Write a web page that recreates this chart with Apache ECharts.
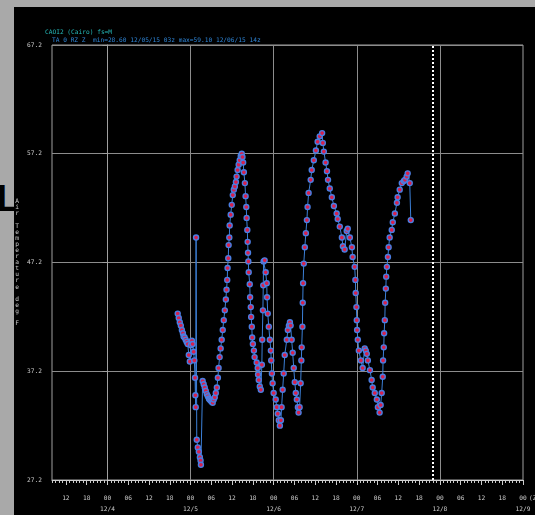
<!DOCTYPE html>
<html><head><meta charset="utf-8">
<script src="https://cdn.jsdelivr.net/npm/echarts@6/dist/echarts.min.js"></script>
<style>
html,body{margin:0;padding:0;width:535px;height:515px;overflow:hidden;background:#a9a9a9;}
#L{position:absolute;left:-3px;top:181px;font:bold 36px "Liberation Sans",Arial,sans-serif;color:#000;line-height:36px;}
#black{position:absolute;left:14px;top:7px;width:521px;height:508px;background:#000;}
#chart{position:absolute;left:0;top:0;width:535px;height:515px;}
</style></head><body>
<div id="L">L</div><div id="black"></div><div id="chart"></div>
<script>
// Hours since 12/4 00Z
const obsHours = [
 20.3,20.6,20.9,21.2,21.5,21.8,22.0,22.3,22.6,22.9,23.2,
 23.5,23.8,24.1,24.4,24.6,24.9,25.1,25.3,25.4,25.5,
 25.6,
 25.8,26.1,26.4,26.7,26.9,27.0,
 27.5,27.8,28.1,28.4,28.7,29.0,29.3,29.5,29.8,30.1,30.4,
 30.7,31.0,31.3,31.6,31.9,32.1,32.4,32.7,33.0,33.3,33.6,33.9,34.2,34.4,
 34.6,34.7,34.9,35.0,35.2,35.3,35.6,35.9,36.2,36.5,36.8,37.1,37.3,37.6,37.9,38.2,38.5,38.8,
 39.0,39.2,39.4,39.7,39.9,40.1,40.2,40.4,40.5,40.6,40.7,40.8,41.1,41.2,41.4,41.5,41.7,41.8,42.0,42.3,42.5,
 43.1,43.4,43.5,43.7,44.0,44.3,
 44.6,44.7,44.9,45.0,45.1,45.4,
 45.7,46.0,46.1,46.3,46.6,46.9,47.2,47.3,47.5,47.7,48.0,48.6,48.9,49.2,49.5,49.8,
 50.1,50.3,50.6,50.9,51.2,51.8,52.1,52.4,52.7,52.9,
 53.2,53.5,53.8,54.1,54.4,54.7,55.0,55.2,55.5,
 55.8,56.0,56.1,56.3,56.4,56.5,56.7,57.0,57.3,57.6,57.8,58.1,58.7,59.0,59.6,60.2,60.7,61.3,62.0,
 62.2,62.5,63.0,63.4,63.7,64.2,64.8,65.4,66.2,66.5,67.1,67.7,68.0,68.5,
 69.1,69.4,70.0,70.6,70.8,71.4,71.6,71.7,71.9,72.0,72.1,72.3,72.6,73.2,73.7,
 74.3,74.6,74.9,75.2,75.8,76.3,76.6,77.2,77.8,78.1,78.6,
 78.9,79.2,79.5,79.6,79.8,79.9,80.1,80.2,80.4,80.5,80.7,81.0,81.2,81.5,
 82.1,82.4,83.0,83.6,83.8,84.4,85.0,85.6,85.9,86.4,86.7,87.3,87.6
];
// Air temperature, deg F
const obsTempF = [
 42.5,42.1,41.7,41.4,41.0,40.7,40.4,40.3,40.1,39.9,39.7,
 38.7,38.1,39.6,40.0,39.7,39.0,38.2,36.6,35.0,33.9,
 49.5,
 30.9,30.2,29.8,29.3,29.0,28.6,
 36.3,36.0,35.7,35.4,35.1,34.9,34.7,34.6,34.5,34.4,34.3,
 34.6,34.8,35.2,35.7,36.6,37.5,38.5,39.3,40.1,41.0,41.9,42.8,43.8,44.7,
 45.6,46.7,47.6,48.8,49.5,50.6,51.6,52.5,53.4,53.9,54.2,54.6,55.1,55.7,56.2,56.6,57.0,57.2,
 56.9,56.4,55.5,54.5,53.3,52.3,51.3,50.2,49.1,48.1,47.3,46.3,45.2,44.0,43.1,42.2,41.3,40.3,39.7,39.1,38.5,
 38.0,37.5,36.9,36.4,35.8,35.5,
 37.8,40.1,42.8,45.1,47.3,47.4,
 46.3,45.3,44.0,42.5,41.3,40.1,39.1,38.2,37.0,36.1,35.2,34.6,33.9,33.3,32.7,32.2,
 32.7,33.9,35.5,37.0,38.7,40.1,41.0,41.4,41.7,41.4,
 40.1,38.9,37.5,36.2,35.2,34.6,33.9,33.4,33.9,
 36.1,38.2,39.4,41.3,43.5,45.3,47.1,48.6,49.9,51.1,52.3,53.6,54.8,55.7,56.6,57.5,58.3,58.8,59.1,
 58.2,57.4,56.4,55.6,54.8,54.0,53.2,52.4,51.7,51.2,50.5,49.5,48.7,48.4,
 50.1,50.3,49.5,48.6,47.7,46.8,45.6,44.4,43.1,41.9,41.0,40.1,39.1,38.2,37.5,
 39.3,39.1,38.8,38.2,37.3,36.4,35.7,35.2,34.6,33.9,33.4,
 34.1,35.2,36.7,38.2,39.4,40.7,41.9,43.5,44.8,45.9,46.8,47.7,48.6,49.5,
 50.2,50.9,51.7,52.7,53.2,53.9,54.5,54.7,54.8,55.1,55.4,54.5,51.1
];
const yTickValues = [27.2, 37.2, 47.2, 57.2, 67.2];
const xLabelHours = [-12,-6,0,6,12,18,24,30,36,42,48,54,60,66,72,78,84,90,96,102,108,114,120];
const dayLineHours = [0, 24, 48, 72, 96];
const dateLabels = ['12/4','12/5','12/6','12/7','12/8','12/9'];
const nowHour = 94;
const titleLine1 = 'CAOI2 (Cairo) fs=M';
const titleLine2 = 'TA 0 RZ Z  min=28.60 12/05/15 03z max=59.10 12/06/15 14z';
const yName = 'Air Temperature deg F';

const X_MIN = -16, X_MAX = 120;
const hourTicks = [];
for (let h = X_MIN; h <= X_MAX; h++) hourTicks.push(h);
const sixTicks = xLabelHours.slice();

const FONT = 'DejaVu Sans Mono';
const chart = echarts.init(document.getElementById('chart'), null, {renderer:'canvas'});
const option = {
  backgroundColor: 'transparent',
  animation: false,
  title: [
    {text: titleLine1, left: 45, top: 29, padding: 0,
     textStyle: {color:'#25b8b8', fontSize:6.2, fontFamily:FONT, fontWeight:'normal', lineHeight:7}},
    {text: titleLine2, left: 52, top: 37, padding: 0,
     textStyle: {color:'#2f86d8', fontSize:6.2, fontFamily:FONT, fontWeight:'normal', lineHeight:7}}
  ],
  graphic: [
    {type:'text', left: 529, top: 495, style:{text:'(Z)', fill:'#cccccc', font:'6.2px "DejaVu Sans Mono"'}}
  ],
  grid: {left:52, right:12, top:45, bottom:35, show:true, borderColor:'#a0a0a0', borderWidth:1, containLabel:false},
  xAxis: [
    {type:'value', min:X_MIN, max:X_MAX, position:'bottom',
     axisLine:{show:true, lineStyle:{color:'#d0d0d0', width:1}},
     axisTick:{show:false, customValues: dayLineHours},
     splitLine:{show:true, lineStyle:{color:'#8c8c8c', width:1}},
     axisLabel:{customValues: xLabelHours, color:'#cccccc', fontFamily:FONT, fontSize:6.2, lineHeight:11, margin:13,
       formatter: function(v){
         const hh = ((v % 24) + 24) % 24;
         const s = String(hh).padStart(2,'0');
         if (hh === 0) return s + '\n' + dateLabels[v/24];
         return s;
       }}
    },
    {type:'value', min:X_MIN, max:X_MAX, position:'bottom',
     axisLine:{show:false}, splitLine:{show:false}, axisLabel:{show:false},
     axisTick:{show:true, customValues: hourTicks, length:3, lineStyle:{color:'#cccccc', width:1}}
    },
    {type:'value', min:X_MIN, max:X_MAX, position:'bottom',
     axisLine:{show:false}, splitLine:{show:false}, axisLabel:{show:false},
     axisTick:{show:true, customValues: sixTicks, length:5, lineStyle:{color:'#cccccc', width:1}}
    }
  ],
  yAxis: {type:'value', min:27.2, max:67.2,
    axisLine:{show:true, lineStyle:{color:'#a0a0a0', width:1}},
    axisTick:{show:true, customValues: yTickValues, length:5, lineStyle:{color:'#a0a0a0'}},
    splitLine:{show:true, lineStyle:{color:'#8c8c8c', width:1}},
    axisLabel:{customValues: yTickValues, color:'#cccccc', fontFamily:FONT, fontSize:6.2, margin:10,
      formatter: v => v.toFixed(1)},
    name: yName.split('').join('\n'), nameLocation:'middle', nameRotate:0, nameGap:35,
    nameTextStyle:{color:'#cccccc', fontFamily:FONT, fontSize:6.2, lineHeight:6.1, align:'center'}
  },
  series: [{
    type:'line', xAxisIndex:0, yAxisIndex:0,
    data: obsHours.map((h,i) => [h, obsTempF[i]]),
    symbol:'circle', symbolSize:5, showSymbol:true,
    lineStyle:{color:'#3c80d8', width:1},
    itemStyle:{color:'#d8204c', borderColor:'#4a7ee2', borderWidth:1.4},
    emphasis:{disabled:true},
    silent:true,
    markLine:{silent:true, symbol:['none','none'], label:{show:false},
      lineStyle:{color:'#ffffff', type:[2,2], width:2},
      data:[{xAxis: nowHour}]}
  }]
};
chart.setOption(option);
</script></body></html>
